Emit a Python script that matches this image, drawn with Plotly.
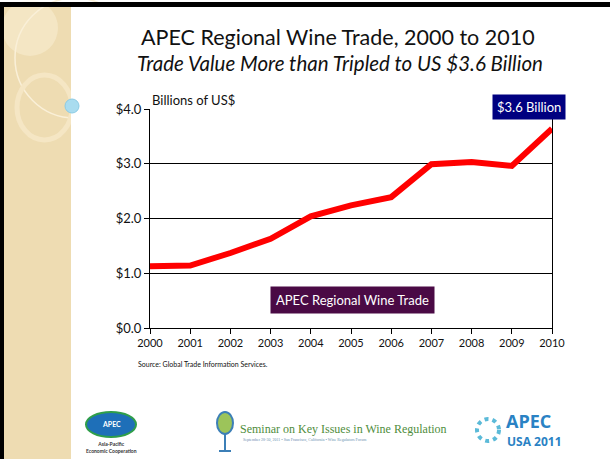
import plotly.graph_objects as go

years = [2000, 2001, 2002, 2003, 2004, 2005, 2006, 2007, 2008, 2009, 2010]
trade_value = [1.13, 1.14, 1.37, 1.63, 2.04, 2.24, 2.39, 2.99, 3.03, 2.96, 3.64]
y_ticks = [0, 1, 2, 3, 4]
y_tick_labels = ["$0.0", "$1.0", "$2.0", "$3.0", "$4.0"]

W, H = 610, 459
L, R, T, B = 150, 552, 109, 328


def px(x):
    return (x - L) / (R - L)


def py(y):
    return (B - y) / (B - T)


FONT = "Lato, 'Open Sans', sans-serif"

fig = go.Figure()
fig.add_trace(go.Scatter(
    x=years, y=trade_value, mode="lines",
    line=dict(color="#ff0000", width=6),
    name="APEC Regional Wine Trade", showlegend=False, hoverinfo="skip"))

shapes = []
# left decorative strip
shapes.append(dict(type="rect", xref="paper", yref="paper", x0=px(4), x1=px(71), y0=py(459), y1=py(4),
                   fillcolor="#eedcb2", line=dict(width=0), layer="below"))
shapes.append(dict(type="circle", xref="paper", yref="paper", x0=px(2), x1=px(58), y0=py(56), y1=py(0),
                   fillcolor="rgba(255,248,230,0.35)", line=dict(width=0), layer="below"))
shapes.append(dict(type="circle", xref="paper", yref="paper", x0=px(15), x1=px(135), y0=py(118), y1=py(-2),
                   fillcolor="rgba(0,0,0,0)", line=dict(color="#faf0d8", width=1.5), layer="below"))
shapes.append(dict(type="circle", xref="paper", yref="paper", x0=px(17), x1=px(72), y0=py(140), y1=py(75),
                   fillcolor="rgba(0,0,0,0)", line=dict(color="#f5e6c4", width=5), layer="below"))
# white content area over the right part of circles
shapes.append(dict(type="rect", xref="paper", yref="paper", x0=px(71), x1=px(612), y0=py(461), y1=py(7),
                   fillcolor="white", line=dict(width=0), layer="below"))
# bubble
shapes.append(dict(type="circle", xref="paper", yref="paper", x0=px(65), x1=px(79), y0=py(113), y1=py(99),
                   fillcolor="#a9dcef", line=dict(color="#8ccbe4", width=1), layer="above"))
# black slide border
shapes.append(dict(type="rect", xref="paper", yref="paper", x0=px(0), x1=px(612), y0=py(7), y1=py(2),
                   fillcolor="black", line=dict(width=0), layer="above"))
shapes.append(dict(type="rect", xref="paper", yref="paper", x0=px(0), x1=px(4), y0=py(461), y1=py(2),
                   fillcolor="black", line=dict(width=0), layer="above"))

# APEC left logo
shapes.append(dict(type="circle", xref="paper", yref="paper", x0=px(86), x1=px(136), y0=py(437), y1=py(412),
                   fillcolor="#1e6fb8", line=dict(color="#2f9e4a", width=2), layer="above"))
# wine glass logo
shapes.append(dict(type="circle", xref="paper", yref="paper", x0=px(217), x1=px(233), y0=py(434), y1=py(412),
                   fillcolor="#9cc45a", line=dict(color="#3c7fb7", width=2), layer="above"))
shapes.append(dict(type="line", xref="paper", yref="paper", x0=px(225), x1=px(225), y0=py(450), y1=py(434),
                   line=dict(color="#3c7fb7", width=2), layer="above"))
shapes.append(dict(type="line", xref="paper", yref="paper", x0=px(219), x1=px(231), y0=py(451), y1=py(451),
                   line=dict(color="#3c7fb7", width=2), layer="above"))
# APEC USA ring
shapes.append(dict(type="circle", xref="paper", yref="paper", x0=px(477), x1=px(499), y0=py(441), y1=py(419),
                   fillcolor="rgba(0,0,0,0)", line=dict(color="#5bbad8", width=4, dash="dot"), layer="above"))

annotations = [
    dict(text="APEC Regional Wine Trade, 2000 to 2010", x=px(338), y=py(37), xref="paper", yref="paper",
         showarrow=False, font=dict(family=FONT, size=21.5, color="#111111"), xanchor="center", yanchor="middle"),
    dict(text="<i>Trade Value More than Tripled to US $3.6 Billion</i>", x=px(340), y=py(63), xref="paper", yref="paper",
         showarrow=False, font=dict(family=FONT, size=20.5, color="#111111"), xanchor="center", yanchor="middle"),
    dict(text="Billions of US$", x=px(150), y=py(100), xref="paper", yref="paper",
         showarrow=False, font=dict(family=FONT, size=13, color="#111111"), xanchor="left", yanchor="middle"),
    dict(text="$3.6 Billion", x=years[-1], y=py(107), xref="x", yref="paper",
         showarrow=False, font=dict(family=FONT, size=13, color="white"), xanchor="center", yanchor="middle",
         xshift=-23, bgcolor="#000080", borderpad=4),
    dict(text="APEC Regional Wine Trade", x=px(352), y=py(300), xref="paper", yref="paper",
         showarrow=False, font=dict(family=FONT, size=13, color="white"), xanchor="center", yanchor="middle",
         bgcolor="#4a0a45", borderpad=5),
    dict(text="Source: Global Trade Information Services.", x=px(136), y=py(364), xref="paper", yref="paper",
         showarrow=False, font=dict(family=FONT, size=7, color="#111111"), xanchor="left", yanchor="middle"),
    # logos text
    dict(text="<b>APEC</b>", x=px(111), y=py(424), xref="paper", yref="paper", showarrow=False,
         font=dict(family=FONT, size=7, color="white"), xanchor="center", yanchor="middle"),
    dict(text="<b>Asia-Pacific<br>Economic Cooperation</b>", x=px(111), y=py(447), xref="paper", yref="paper",
         showarrow=False, font=dict(family=FONT, size=5, color="#333333"), xanchor="center", yanchor="middle"),
    dict(text="Seminar on Key Issues in Wine Regulation", x=px(238), y=py(429), xref="paper", yref="paper",
         showarrow=False, font=dict(family="Liberation Serif, serif", size=12, color="#4f8d3c"),
         xanchor="left", yanchor="middle"),
    dict(text="September 28-30, 2011 • San Francisco, California • Wine Regulators Forum", x=px(241), y=py(440),
         xref="paper", yref="paper", showarrow=False,
         font=dict(family="Liberation Serif, serif", size=4, color="#6b8fb0"), xanchor="left", yanchor="middle"),
    dict(text="<b>APEC</b>", x=px(504), y=py(421), xref="paper", yref="paper", showarrow=False,
         font=dict(family="Open Sans, sans-serif", size=18, color="#2a82c4"), xanchor="left", yanchor="middle"),
    dict(text="<b>USA 2011</b>", x=px(505), y=py(442), xref="paper", yref="paper", showarrow=False,
         font=dict(family="Open Sans, sans-serif", size=12, color="#2a82c4"), xanchor="left", yanchor="middle"),
]

fig.update_layout(
    width=W, height=H,
    margin=dict(l=L, r=W - R, t=T, b=H - B),
    paper_bgcolor="white",
    plot_bgcolor="#fffad6",
    shapes=shapes,
    annotations=annotations,
    showlegend=False,
    xaxis=dict(range=[years[0], years[-1]], tickmode="array", tickvals=years,
               ticktext=[str(y) for y in years], showgrid=False, zeroline=False,
               showline=True, linecolor="black", linewidth=1, mirror=False,
               ticks="outside", ticklen=5, tickcolor="black",
               tickfont=dict(family=FONT, size=11, color="#111111")),
    yaxis=dict(range=[0, 4], tickmode="array", tickvals=y_ticks, ticktext=y_tick_labels,
               showgrid=True, gridcolor="black", gridwidth=1, zeroline=False,
               showline=True, linecolor="black", linewidth=1, mirror=True,
               ticks="outside", ticklen=5, tickcolor="black",
               tickfont=dict(family=FONT, size=13, color="#111111")),
)

fig.write_html("out.html", config={"displayModeBar": False},
               post_script="document.body.style.margin='0';document.body.style.overflow='hidden';")
